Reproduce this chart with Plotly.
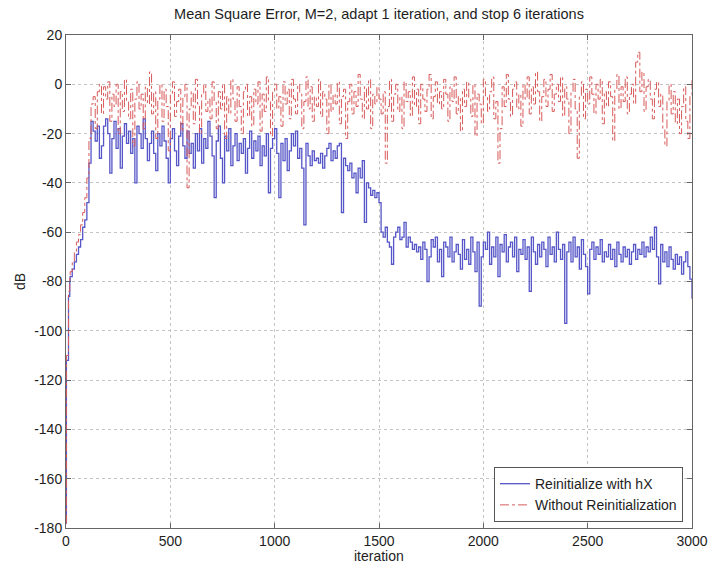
import plotly.graph_objects as go

iterations = [0, 2, 12, 18] + list(range(20, 3001, 10))

blue_start = [-178, -112, -86, -80]
blue_vals = [
    -78, -75, -72, -69, -66, -63, -58, -55,
    -48, -32, -15, -19, -23, -17, -30, -25, -17, -14,
    -20, -36, -22, -15, -26, -18, -34, -21, -16, -24,
    -19, -28, -22, -40, -17, -20, -26, -14, -22, -31,
    -24, -19, -28, -35, -20, -25, -17, -23, -30, -40,
    -22, -18, -27, -33, -21, -16, -25, -30, -19, -28,
    -24, -34, -20, -27, -18, -32, -22, -26, -15, -21,
    -29, -46, -23, -17, -30, -40, -21, -27, -18, -33,
    -25, -20, -31, -24, -28, -22, -36, -26, -19, -30,
    -23, -27, -21, -33, -25, -29, -20, -44, -26, -22,
    -18, -28, -46, -24, -31, -22, -35, -27, -20, -25,
    -19, -30, -26, -34, -57, -24, -29, -33, -27, -31,
    -30, -32, -28, -34, -29, -26, -24, -31, -27, -30,
    -25, -24, -52, -30, -33, -35, -32, -38, -36, -44,
    -34, -38, -31, -56, -40, -42, -45, -43, -46, -44,
    -48, -60, -62, -58, -64, -66, -73, -62, -60, -58,
    -63, -62, -56, -66, -62, -64, -67, -65, -68, -66,
    -71, -64, -67, -80, -70, -63, -66, -62, -72, -67,
    -78, -64, -66, -70, -62, -72, -68, -65, -69, -75,
    -63, -71, -67, -73, -62, -68, -76, -64, -90, -70,
    -64, -67, -60, -73, -66, -70, -62, -78, -65, -68,
    -61, -72, -66, -64, -70, -62, -76, -67, -69, -63,
    -71, -66, -84, -62, -68, -73, -65, -70, -64, -67,
    -74, -62, -69, -66, -72, -60, -67, -71, -65, -97,
    -68, -64, -72, -62, -70, -66, -75, -63, -69, -74,
    -85, -67, -64, -71, -66, -69, -63, -72, -68, -70,
    -65, -71, -67, -74, -64, -69, -72, -66, -70, -67,
    -73, -68, -65, -71, -67, -69, -64, -70, -66, -68,
    -62, -67, -58, -70, -81, -65, -72, -68, -74, -66,
    -71, -75, -69, -73, -70, -77, -72, -68, -74, -79,
    -87,
]
reinit_db = blue_start + blue_vals

red_start = [-178, -110, -84, -78]
red_vals = [
    -76, -72, -68, -64, -61, -57, -52, -46,
    -38, -22, -8, -5, -18, -3, 0, -12, -1, -6,
    1, -15, -4, -9, 0, -20, -3, -11, 2, -7,
    -14, -2, -25, -6, 1, -10, -4, -18, -1, -8,
    5, -12, -3, -22, -6, 0, -15, -2, -9, -27,
    -4, 1, -13, -7, -2, -19, -5, 0, -42, -10,
    -3, -16, 2, -8, -20, -4, 0, -11, -6, -14,
    1, -7, -18, -3, -10, 0, -22, -5, -12, 2,
    -6, -15, -1, -9, -20, -3, 0, -13, -5, -17,
    -2, -8, 1, -19, -4, -11, 3, -7, -21, -3,
    0, -10, -5, -17, 1, -8, -2, -14, 2, -6,
    -12, 0, -4, -18, -7, 3, -10, -1, -15, -5,
    -9, 2, -13, -3, -6, -20, 0, -11, -4, -8,
    1, -16, -5, -2, -22, -7, 0, -12, -3, -9,
    4, -6, -14, -1, -10, 2, -18, -4, -8, -1,
    -6, -12, -3, -32, -9, 2, -15, -4, 0, -11,
    -5, -18, 1, -7, -3, -13, 3, -9, -2, -16,
    0, -6, -11, -2, 4, -14, -5, 1, -8, -3,
    -10, 2, -4, -15, -1, -7, 3, -12, -5, -19,
    -2, -9, 1, -6, -13, 0, -21, -4, -8, -16,
    2, -5, -11, -3, 3, -14, -7, -32, -18, -1,
    -9, 4, -6, -13, -2, 1, -10, -4, -17, 0,
    -6, 3, -12, -1, -8, 5, -3, -15, -5, 2,
    -9, -2, 4, -11, -4, 0, -7, 3, -13, -1,
    -6, -20, -3, 2, -10, -30, -5, 1, -14, -2,
    -8, 3, -4, -12, 0, -6, 2, -16, -3, -9,
    1, -5, -23, -2, 4, -10, -1, -7, 3, -12,
    -4, 0, -8, 9, 13, -3, 5, -11, -1, 2,
    -6, -14, -2, 1, -9, -4, -18, -25, -7, 0,
    -12, -3, -16, -6, -20, -9, -1, -15, -22, -5,
    2,
]
noreinit_db = red_start + red_vals

x_ticks = [0, 500, 1000, 1500, 2000, 2500, 3000]
x_tick_text = ["0", "500", "1000", "1500", "2000", "2500", "3000"]
y_ticks = [20, 0, -20, -40, -60, -80, -100, -120, -140, -160, -180]
y_tick_text = ["20", "0", "-20", "-40", "-60", "-80", "-100", "-120", "-140", "-160", "-180"]

FONT = "Liberation Sans, Arial, sans-serif"
TXT = "#1e1e1e"

fig = go.Figure()
fig.add_trace(go.Scatter(
    x=iterations, y=reinit_db, mode="lines", line_shape="hv",
    name="Reinitialize with hX",
    line=dict(color="#5656c8", width=1.3),
))
fig.add_trace(go.Scatter(
    x=iterations, y=noreinit_db, mode="lines", line_shape="hv",
    name="Without Reinitialization",
    line=dict(color="#d85a5a", width=1, dash="dashdot"),
))

axis_common = dict(
    showline=True, linecolor="#666666", linewidth=1, mirror="ticks",
    ticks="inside", ticklen=5, tickcolor="#666666",
    showgrid=True, gridcolor="#c4c4c4", griddash="dot", gridwidth=1,
    zeroline=False, automargin=False, ticklabeloverflow="allow",
    tickfont=dict(size=14, color=TXT, family=FONT),
)

fig.update_layout(
    width=709, height=565,
    paper_bgcolor="white", plot_bgcolor="white",
    margin=dict(l=66, r=17, t=35, b=37),
    font=dict(family=FONT, size=14, color=TXT),
    title=dict(text="Mean Square Error, M=2, adapt 1 iteration, and stop 6 iterations",
               xref="paper", x=0.5, xanchor="center",
               y=1 - 9 / 565, yanchor="top",
               font=dict(size=14.5, family=FONT, color=TXT)),
    xaxis=dict(range=[0, 3000], tickvals=x_ticks, ticktext=x_tick_text, **axis_common),
    yaxis=dict(range=[-180, 20], tickvals=y_ticks, ticktext=y_tick_text, **axis_common),
    legend=dict(x=0.9856, y=0.012, xanchor="right", yanchor="bottom",
                bgcolor="white", bordercolor="#555555", borderwidth=1,
                font=dict(size=14, family=FONT), tracegroupgap=0,
                itemwidth=30),
    showlegend=True,
    annotations=[
        dict(text="iteration", xref="paper", yref="paper", x=0.5, y=-0.0568,
             xanchor="center", yanchor="middle", showarrow=False,
             font=dict(size=14, family=FONT, color=TXT)),
        dict(text="dB", xref="paper", yref="paper", x=-0.0735, y=0.501,
             xanchor="center", yanchor="middle", showarrow=False, textangle=-90,
             font=dict(size=14, family=FONT, color=TXT)),
    ],
)

fig.write_html(
    "out.html",
    config={"displayModeBar": False},
    post_script="document.body.style.margin='0';document.body.style.overflow='hidden';",
)
